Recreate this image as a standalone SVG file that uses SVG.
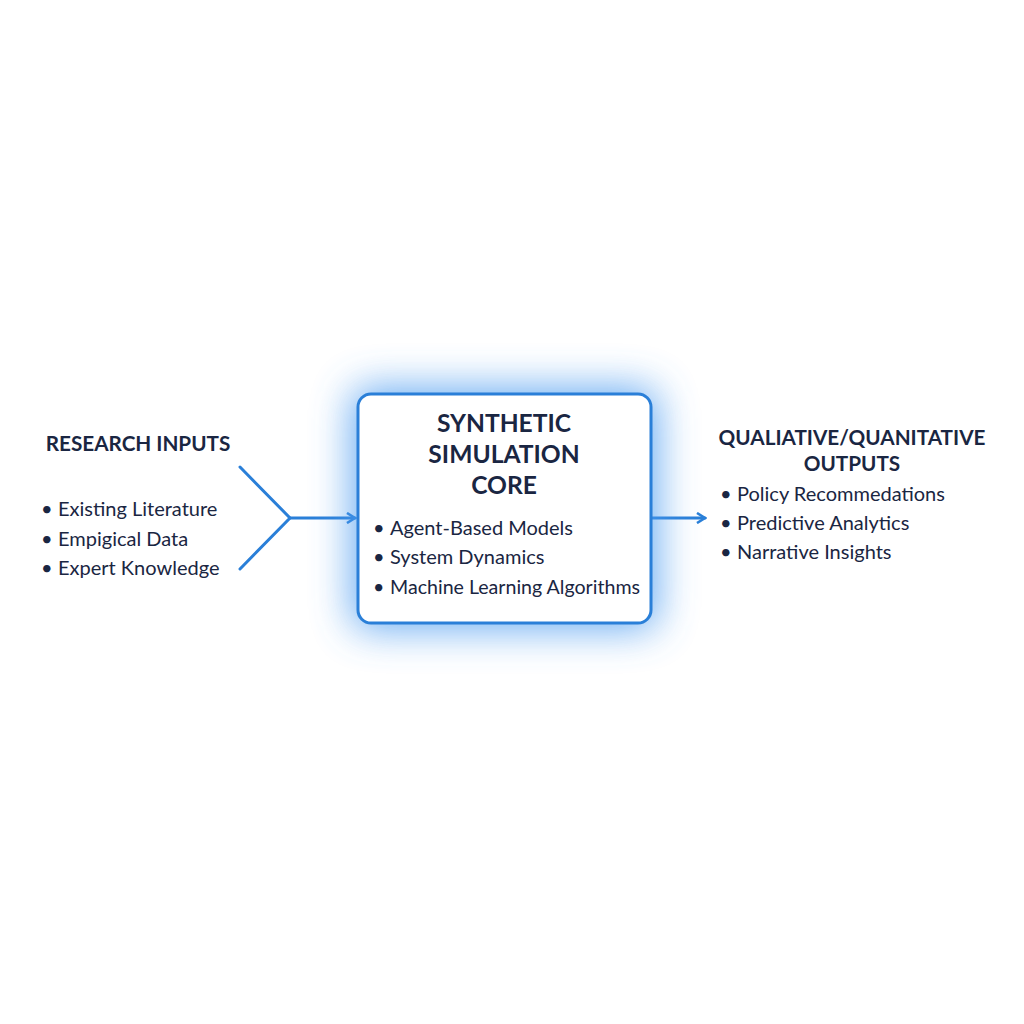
<svg xmlns="http://www.w3.org/2000/svg" width="1024" height="1024" viewBox="0 0 1024 1024">
<defs>
<style>
.t{font-family:Lato,"Open Sans","Liberation Sans",sans-serif;fill:#1a2642}
.h{font-weight:700;font-size:20.7px}
.h2{font-weight:700;font-size:24.6px}
.b{font-size:20px}
.ln{stroke:#2a7fd8;stroke-width:3;fill:none;stroke-linecap:round}
</style>
<filter id="glow" x="-50%" y="-50%" width="200%" height="200%">
<feGaussianBlur stdDeviation="20"/>
</filter>
<marker id="ah" viewBox="0 0 12 12" refX="10" refY="6" markerWidth="12" markerHeight="12" markerUnits="userSpaceOnUse" orient="auto">
<path d="M2,1 L10,6 L2,11" fill="none" stroke="#2a7fd8" stroke-width="2.6" stroke-linejoin="miter"/>
</marker>
</defs>
<rect width="1024" height="1024" fill="#ffffff"/>
<g id="connectors">
<path class="ln" d="M240,467 L290,518 L240,569"/>
<path class="ln" d="M290,518 L355,518" marker-end="url(#ah)"/>
<path class="ln" d="M652,518 L705,518" marker-end="url(#ah)"/>
</g>
<g id="inputs">
<text class="t h" x="138" y="451" text-anchor="middle">RESEARCH INPUTS</text>
<text class="t b" x="41" y="516">•<tspan x="58">Existing Literature</tspan></text>
<text class="t b" x="41" y="546">•<tspan x="58">Empigical Data</tspan></text>
<text class="t b" x="41" y="575">•<tspan x="58">Expert Knowledge</tspan></text>
</g>
<g id="core">
<rect x="352" y="388" width="305" height="241" rx="16" fill="#4d9cf0" opacity="0.85" filter="url(#glow)"/>
<rect x="358" y="394" width="293" height="229" rx="13" fill="#ffffff" stroke="#2a7fd8" stroke-width="3"/>
<text class="t h2" x="504" y="432" text-anchor="middle">SYNTHETIC</text>
<text class="t h2" x="504" y="463" text-anchor="middle">SIMULATION</text>
<text class="t h2" x="504" y="494" text-anchor="middle">CORE</text>
<text class="t b" x="373" y="535">•<tspan x="390">Agent-Based Models</tspan></text>
<text class="t b" x="373" y="564">•<tspan x="390">System Dynamics</tspan></text>
<text class="t b" x="373" y="594" style="font-size:19.6px">•<tspan x="390">Machine Learning Algorithms</tspan></text>
</g>
<g id="outputs">
<text class="t h" x="852" y="445" text-anchor="middle">QUALIATIVE/QUANITATIVE</text>
<text class="t h" x="852" y="471" text-anchor="middle">OUTPUTS</text>
<text class="t b" x="720" y="501">•<tspan x="737">Policy Recommedations</tspan></text>
<text class="t b" x="720" y="530">•<tspan x="737">Predictive Analytics</tspan></text>
<text class="t b" x="720" y="559">•<tspan x="737">Narrative Insights</tspan></text>
</g>
</svg>
